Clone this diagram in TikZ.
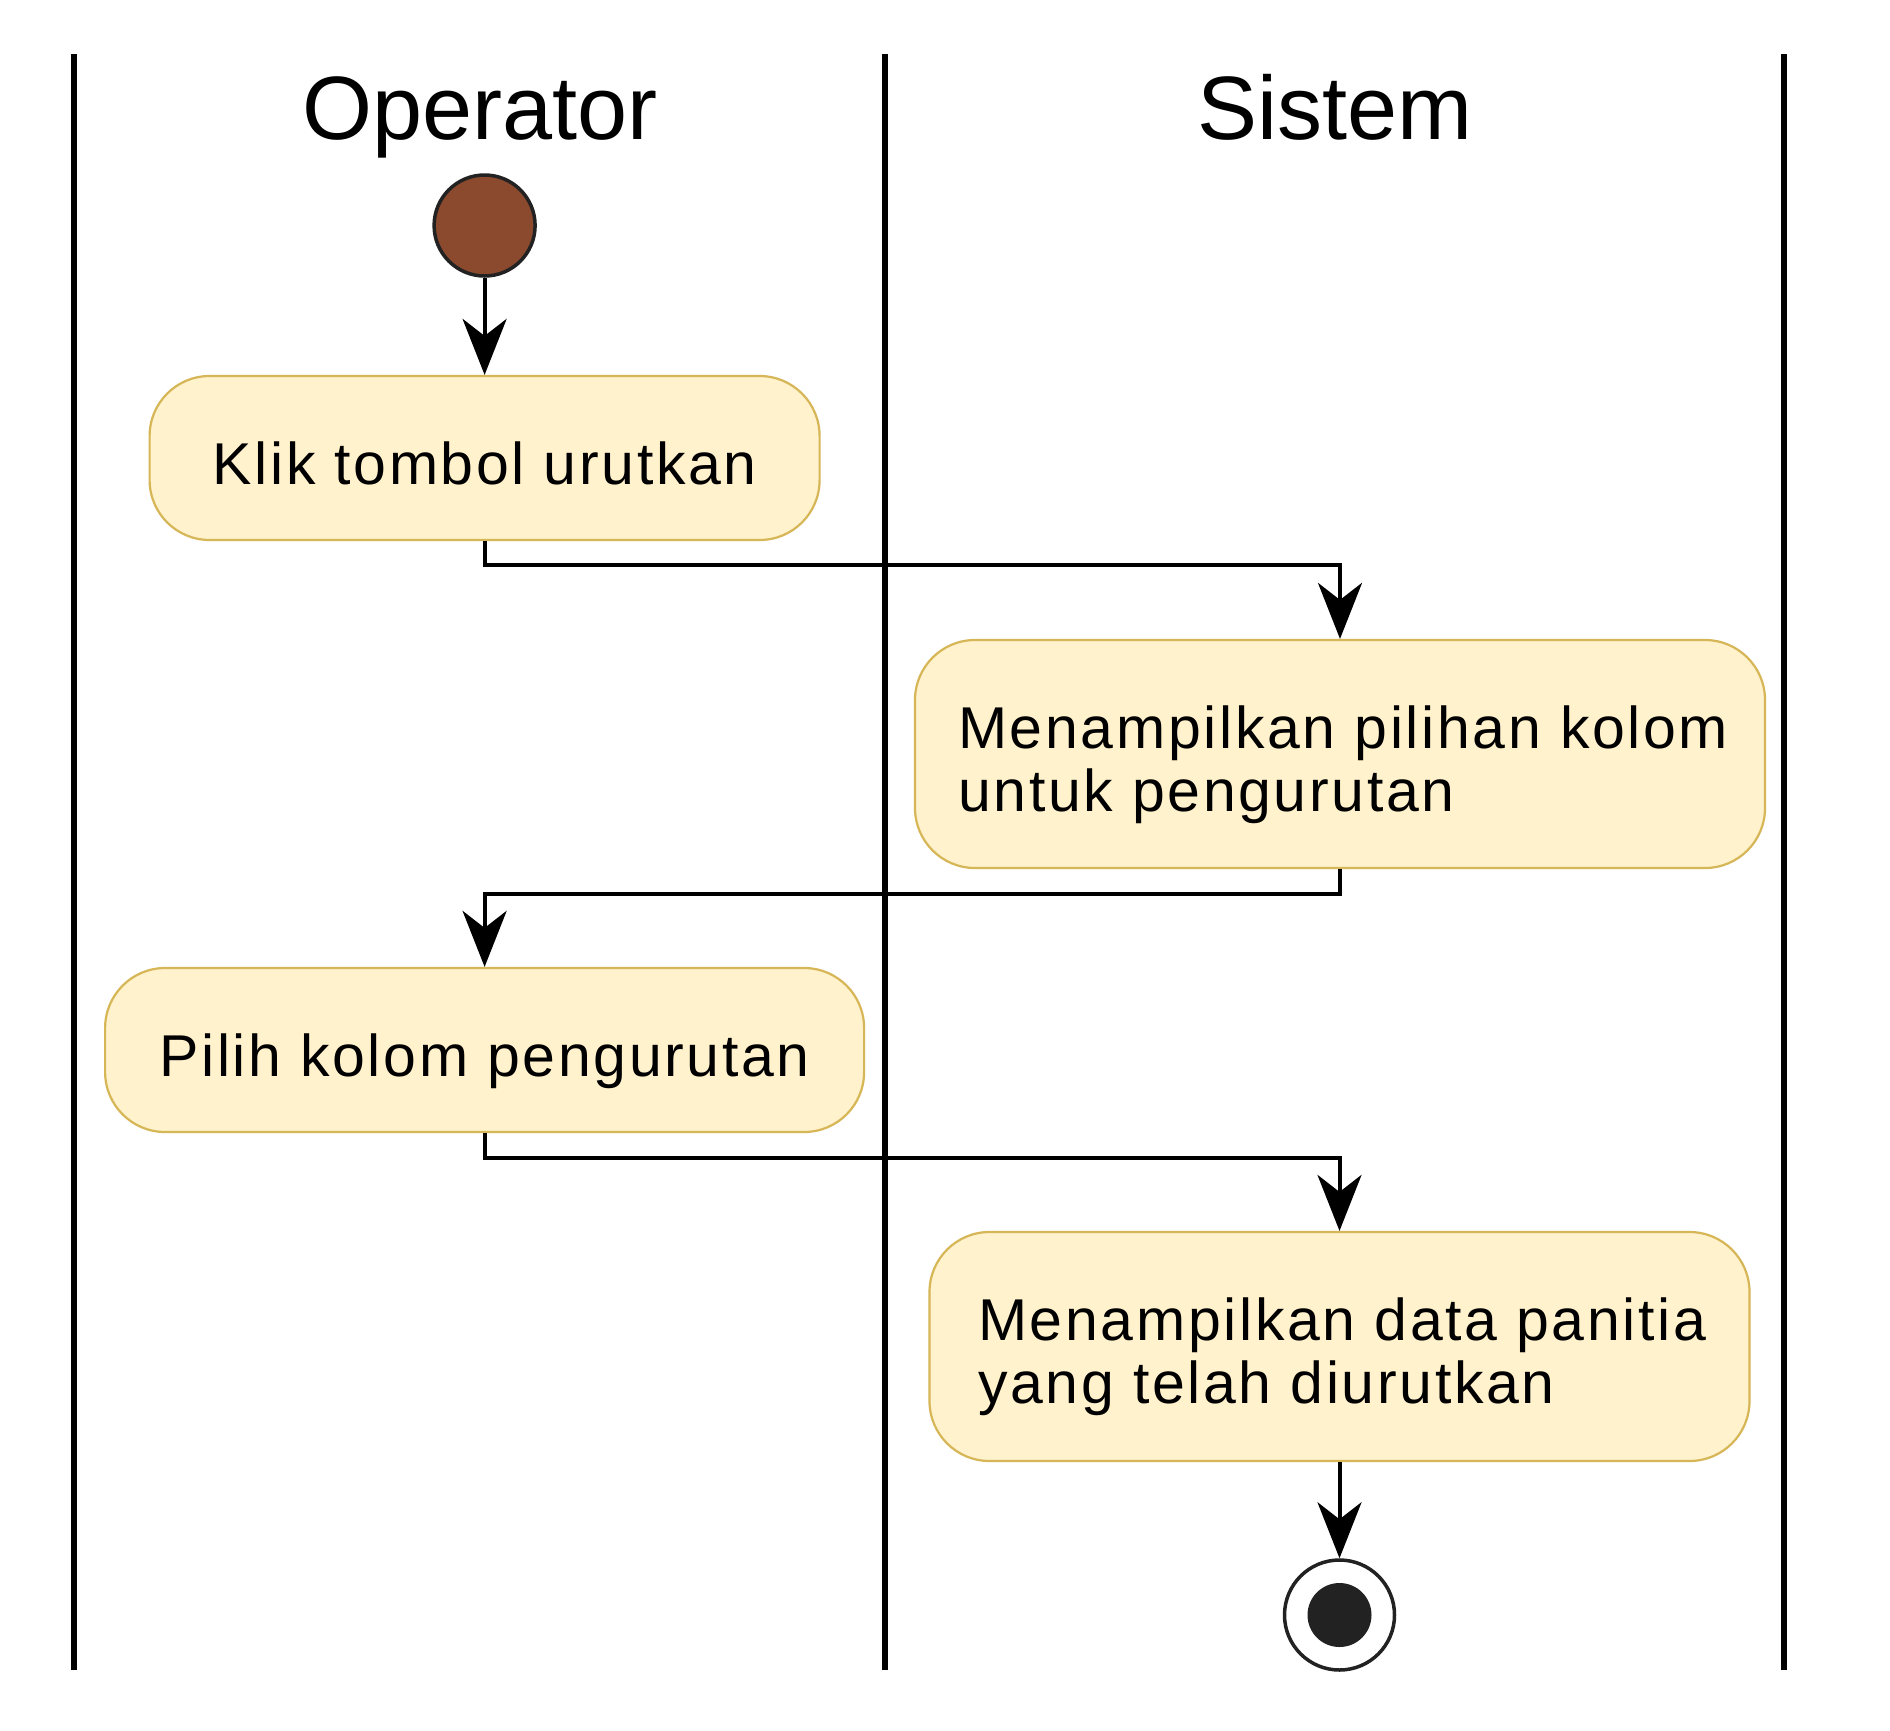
\documentclass[tikz,border=0pt]{standalone}
\usepackage{fontspec}
\setmainfont{Liberation Sans}
\newfontfamily\boxfont[LetterSpace=4.5]{Liberation Sans}
\usetikzlibrary{arrows.meta,calc}
\definecolor{boxfill}{HTML}{FFF2CC}
\definecolor{boxline}{HTML}{D6B656}
\definecolor{startfill}{HTML}{8B4A2E}
\definecolor{dark}{HTML}{222222}
\begin{document}
\begin{tikzpicture}[x=1pt,y=-1pt,
  lane/.style={line width=5.5pt,black},
  hdr/.style={anchor=base,font=\fontsize{90}{100}\selectfont},
  act/.style={draw=boxline,fill=boxfill,line width=2.2pt,rounded corners=60pt,
    rectangle,inner sep=0pt},
  txt/.style={inner sep=0pt,font=\boxfont\fontsize{59}{63}\selectfont},
  flow/.style={line width=4pt,black,-{Stealth[length=56pt,width=44pt,inset=17pt]}},
  startnode/.style={circle,draw=dark,fill=startfill,line width=3.5pt,minimum size=101pt,inner sep=0pt},
  endouter/.style={circle,draw=dark,fill=white,line width=3.5pt,minimum size=110pt,inner sep=0pt},
  endinner/.style={circle,fill=dark,minimum size=64pt,inner sep=0pt}]
\useasboundingbox (0,0) rectangle (1890,1730);
\fill[white] (0,0) rectangle (1890,1730);
% swimlane borders
\coordinate (l1t) at (74,54);  \coordinate (l1b) at (74,1670);
\coordinate (l2t) at (885,54); \coordinate (l2b) at (885,1670);
\coordinate (l3t) at (1784,54);\coordinate (l3b) at (1784,1670);
\draw[lane] (l1t) -- (l1b);
\draw[lane] (l2t) -- (l2b);
\draw[lane] (l3t) -- (l3b);
\node[hdr] (h1) at (480,139) {Operator};
\node[hdr] (h2) at (1335,139) {Sistem};
% nodes
\node[startnode] (start) at (484.6,225.5) {};
\node[act,minimum width=670pt,minimum height=164pt] (b1) at (484.6,458) {};
\node[txt,anchor=base] (t1) at (484.6,484) {Klik tombol urutkan};
\node[act,minimum width=850pt,minimum height=228pt] (b2) at (1340,754) {};
\node[txt,anchor=base west] (t2a) at (958,748) {Menampilkan pilihan kolom};
\node[txt,anchor=base west] (t2b) at (958,811) {untuk pengurutan};
\node[act,minimum width=759pt,minimum height=164pt] (b3) at (484.6,1050) {};
\node[txt,anchor=base] (t3) at (484.6,1076) {Pilih kolom pengurutan};
\node[act,minimum width=820pt,minimum height=229pt] (b4) at (1339.5,1346.5) {};
\node[txt,anchor=base west] (t4a) at (978,1340) {Menampilkan data panitia};
\node[txt,anchor=base west] (t4b) at (978,1403) {yang telah diurutkan};
\node[endouter] (end) at (1339.5,1615) {};
\node[endinner] (endc) at (end.center) {};
% connectors
\draw[flow] (start) -- (b1);
\draw[flow] (b1.south) -- ([yshift=-24pt]b1.south) -| (b2.north);
\draw[flow] (b2.south) -- ([yshift=-25pt]b2.south) -| (b3.north);
\draw[flow] (b3.south) -- ([yshift=-25pt]b3.south) -| (b4.north);
\draw[flow] (b4.south) -- (end);
\end{tikzpicture}
\end{document}
